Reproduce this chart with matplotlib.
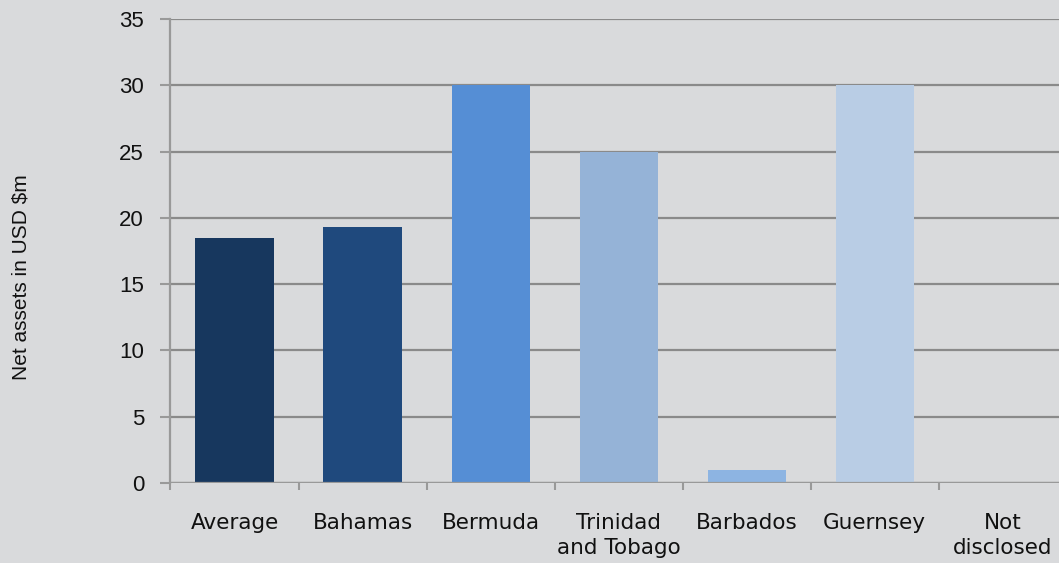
import matplotlib.pyplot as plt
import numpy as np

# chart data
categories = ["Average", "Bahamas", "Bermuda", "Trinidad\nand Tobago",
              "Barbados", "Guernsey", "Not\ndisclosed"]
net_assets = [18.5, 19.3, 30, 25, 1, 30, 0]
bar_colors = ["#17375e", "#1f497d", "#558ed5", "#95b3d7",
              "#8db4e2", "#b9cde5", "#b9cde5"]
y_ticks = [0, 5, 10, 15, 20, 25, 30, 35]

bg = "#d9dadc"
grid_col = "#8a8a8a"

fig = plt.figure(figsize=(10.59, 5.63), dpi=100, facecolor=bg)
ax = fig.add_axes([0.161, 0.1421, 0.8463, 0.8242])
ax.set_facecolor(bg)

x = np.arange(len(categories))
ax.bar(x, net_assets, width=0.61, color=bar_colors, zorder=3)

ax.set_xlim(-0.5, len(categories) - 0.5)
ax.set_ylim(0, 35)
ax.set_yticks(y_ticks)
ax.yaxis.grid(True, color=grid_col, linewidth=1.6, zorder=0)

for side in ["top", "right", "bottom"]:
    ax.spines[side].set_visible(False)
ax.spines["left"].set_color("#999999")
ax.spines["left"].set_linewidth(1.6)
ax.axhline(0, color="#999999", linewidth=1.6, zorder=4)

# labels centred on bars, tick marks on category boundaries
ax.set_xticks(x)
ax.set_xticklabels(categories, fontsize=15.5, family="DejaVu Sans",
                   color="#111111", linespacing=1.3)
ax.tick_params(axis="x", which="major", length=0, pad=21.5)
ax.set_xticks(np.arange(-0.5, len(categories), 1), minor=True)
ax.tick_params(axis="x", which="minor", length=5, width=1.5, color="#999999")
ax.tick_params(axis="y", length=7, width=1.5, color="#999999", pad=12,
               labelsize=16, labelcolor="#111111")
for lab in ax.get_yticklabels():
    lab.set_family("Liberation Sans")

fig.text(0.02, 0.508, "Net assets in USD $m", rotation=90, ha="center",
         va="center", fontsize=15, family="Liberation Sans", color="#111111")

fig.savefig("out.png", dpi=100, facecolor=bg)
